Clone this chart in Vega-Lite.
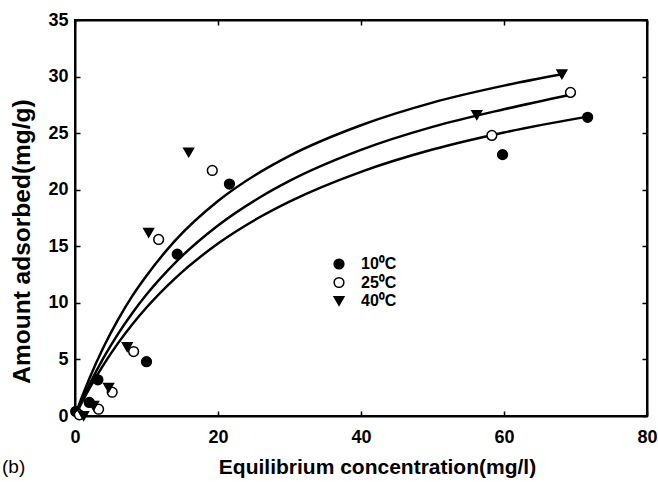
{
  "$schema": "https://vega.github.io/schema/vega-lite/v6.json",
  "width": 572,
  "height": 396,
  "autosize": {"type": "none"},
  "padding": {"left": 75, "top": 20, "right": 11, "bottom": 66},
  "background": "white",
  "title": {"text": "(b)", "orient": "bottom", "anchor": "start", "frame": "group", "fontSize": 19, "fontWeight": "normal", "font": "Liberation Sans", "color": "black", "dx": -73, "dy": -23},
  "config": {
    "view": {"stroke": "black", "strokeWidth": 2},
    "font": "Liberation Sans",
    "axis": {"grid": false, "labelFlush": false, "labelFont": "Liberation Sans", "labelFontWeight": "bold", "labelFontSize": 18, "labelColor": "black", "tickColor": "black", "tickWidth": 1.5, "tickSize": -5, "domainColor": "black", "domainWidth": 2, "titleFont": "Liberation Sans", "titleFontWeight": "bold", "titleFontSize": 21, "titleColor": "black"}
  },
  "datasets": {
    "curves": [
      {"x": 0, "y": 0, "curve": "a"}, {"x": 1, "y": 1.72, "curve": "a"}, {"x": 2, "y": 3.3, "curve": "a"}, {"x": 4, "y": 6.1, "curve": "a"}, {"x": 6, "y": 8.5, "curve": "a"}, {"x": 8, "y": 10.6, "curve": "a"}, {"x": 10, "y": 12.4, "curve": "a"}, {"x": 14, "y": 15.5, "curve": "a"}, {"x": 20, "y": 19.0, "curve": "a"}, {"x": 26, "y": 21.6, "curve": "a"}, {"x": 30, "y": 23.0, "curve": "a"}, {"x": 40, "y": 25.7, "curve": "a"}, {"x": 50, "y": 27.7, "curve": "a"}, {"x": 60, "y": 29.2, "curve": "a"}, {"x": 68.1, "y": 30.2, "curve": "a"},
      {"x": 0, "y": 0, "curve": "b"}, {"x": 1, "y": 1.43, "curve": "b"}, {"x": 2, "y": 2.75, "curve": "b"}, {"x": 4, "y": 5.15, "curve": "b"}, {"x": 6, "y": 7.24, "curve": "b"}, {"x": 8, "y": 9.09, "curve": "b"}, {"x": 10, "y": 10.74, "curve": "b"}, {"x": 14, "y": 13.54, "curve": "b"}, {"x": 20, "y": 16.84, "curve": "b"}, {"x": 26, "y": 19.38, "curve": "b"}, {"x": 30, "y": 20.78, "curve": "b"}, {"x": 40, "y": 23.52, "curve": "b"}, {"x": 50, "y": 25.55, "curve": "b"}, {"x": 60, "y": 27.11, "curve": "b"}, {"x": 69.3, "y": 28.4, "curve": "b"},
      {"x": 0, "y": 0, "curve": "c"}, {"x": 1, "y": 1.25, "curve": "c"}, {"x": 2, "y": 2.42, "curve": "c"}, {"x": 4, "y": 4.54, "curve": "c"}, {"x": 6, "y": 6.42, "curve": "c"}, {"x": 8, "y": 8.09, "curve": "c"}, {"x": 10, "y": 9.59, "curve": "c"}, {"x": 14, "y": 12.17, "curve": "c"}, {"x": 20, "y": 15.24, "curve": "c"}, {"x": 26, "y": 17.63, "curve": "c"}, {"x": 30, "y": 18.95, "curve": "c"}, {"x": 40, "y": 21.58, "curve": "c"}, {"x": 50, "y": 23.55, "curve": "c"}, {"x": 60, "y": 25.06, "curve": "c"}, {"x": 71.7, "y": 26.46, "curve": "c"}
    ],
    "points": [
      {"x": 0.1, "y": 0.4, "T": "10⁰C"}, {"x": 2.0, "y": 1.2, "T": "10⁰C"}, {"x": 3.2, "y": 3.2, "T": "10⁰C"}, {"x": 10.0, "y": 4.8, "T": "10⁰C"}, {"x": 14.3, "y": 14.3, "T": "10⁰C"}, {"x": 21.6, "y": 20.5, "T": "10⁰C"}, {"x": 59.8, "y": 23.1, "T": "10⁰C"}, {"x": 71.7, "y": 26.4, "T": "10⁰C"},
      {"x": 0.6, "y": 0.1, "T": "25⁰C"}, {"x": 3.3, "y": 0.6, "T": "25⁰C"}, {"x": 5.2, "y": 2.1, "T": "25⁰C"}, {"x": 8.2, "y": 5.7, "T": "25⁰C"}, {"x": 11.7, "y": 15.6, "T": "25⁰C"}, {"x": 19.2, "y": 21.7, "T": "25⁰C"}, {"x": 58.3, "y": 24.8, "T": "25⁰C"}, {"x": 69.3, "y": 28.6, "T": "25⁰C"},
      {"x": 1.2, "y": 0.0, "T": "40⁰C"}, {"x": 2.6, "y": 0.9, "T": "40⁰C"}, {"x": 4.7, "y": 2.5, "T": "40⁰C"}, {"x": 7.3, "y": 6.1, "T": "40⁰C"}, {"x": 10.3, "y": 16.2, "T": "40⁰C"}, {"x": 15.9, "y": 23.3, "T": "40⁰C"}, {"x": 56.2, "y": 26.6, "T": "40⁰C"}, {"x": 68.1, "y": 30.2, "T": "40⁰C"}
    ]
  },
  "layer": [
    {
      "data": {"name": "curves"},
      "mark": {"type": "line", "color": "black", "strokeWidth": 2.5, "interpolate": "monotone"},
      "encoding": {
        "x": {"field": "x", "type": "quantitative", "scale": {"domain": [0, 80], "nice": false}, "axis": {"orient": "bottom", "values": [0, 20, 40, 60, 80], "title": "Equilibrium concentration(mg/l)", "labelPadding": 17, "titleX": 302, "titleY": 51, "titleBaseline": "middle", "titleAnchor": null}},
        "y": {"field": "y", "type": "quantitative", "scale": {"domain": [0, 35], "nice": false}, "axis": {"orient": "left", "values": [0, 5, 10, 15, 20, 25, 30, 35], "title": "Amount adsorbed(mg/g)", "titleFontSize": 24.5, "labelPadding": 12, "titleX": -53, "titleY": 221, "titleAngle": -90, "titleAlign": "center", "titleBaseline": "middle"}},
        "detail": {"field": "curve"}
      }
    },
    {
      "data": {"name": "points"},
      "mark": {"type": "point", "filled": true, "stroke": "black", "strokeWidth": 1.5, "size": 95, "opacity": 1},
      "encoding": {
        "x": {"field": "x", "type": "quantitative", "axis": {"orient": "top", "values": [0, 20, 40, 60, 80], "labels": false, "title": null}},
        "y": {"field": "y", "type": "quantitative", "axis": {"orient": "right", "values": [0, 5, 10, 15, 20, 25, 30, 35], "labels": false, "title": null}},
        "shape": {"field": "T", "type": "nominal", "scale": {"domain": ["10⁰C", "25⁰C", "40⁰C"], "range": ["circle", "circle", "triangle-down"]}, "legend": {"orient": "none", "legendX": 256, "legendY": 236, "title": null, "labelFont": "Liberation Sans", "labelFontWeight": "bold", "labelFontSize": 16, "labelColor": "black", "symbolSize": 95, "rowPadding": 2.5, "labelOffset": 14, "encode": {"symbols": {"update": {"stroke": {"value": "black"}, "strokeWidth": {"value": 1.5}}}}}},
        "fill": {"field": "T", "type": "nominal", "scale": {"domain": ["10⁰C", "25⁰C", "40⁰C"], "range": ["black", "white", "black"]}, "legend": {"orient": "none", "legendX": 256, "legendY": 236, "title": null, "labelFont": "Liberation Sans", "labelFontWeight": "bold", "labelFontSize": 16, "labelColor": "black", "symbolSize": 95, "rowPadding": 2.5, "labelOffset": 14, "encode": {"symbols": {"update": {"stroke": {"value": "black"}, "strokeWidth": {"value": 1.5}}}}}}
      }
    }
  ],
  "resolve": {"axis": {"x": "independent", "y": "independent"}}
}
